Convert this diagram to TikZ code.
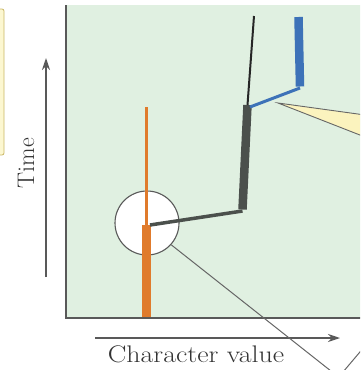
\documentclass[tikz,border=0pt]{standalone}
\usepackage{tikz}
\usetikzlibrary{positioning,arrows.meta}

\definecolor{panelgreen}{HTML}{E0F0E1}
\definecolor{lineorange}{HTML}{E07B2C}
\definecolor{linegray}{HTML}{4B504C}
\definecolor{lineblue}{HTML}{3D72B8}
\definecolor{noteyellow}{HTML}{FBF3BE}
\definecolor{notegold}{HTML}{C9B765}

\begin{document}
\begin{tikzpicture}[
  x=1pt, y=-1pt,
  axis/.style={-{Stealth[length=12pt, width=8pt]}, black!65, line width=1.3pt},
  lbl/.style={font=\fontsize{24}{26}\selectfont, text=black!80, inner sep=0pt},
  thin/.style={line width=3pt, line cap=butt},
  thick/.style={line width=8.5pt, line cap=butt},
  pointer/.style={black!60, line width=1pt}
]
\useasboundingbox (0,0) rectangle (360,370);
\clip (0,0) rectangle (360,370);

% panel and side note
\fill[panelgreen] (66,5) rectangle (365,318);
\draw[black!65, line width=1.4pt] (66,5) -- (66,318) -- (365,318);
\draw[notegold, fill=noteyellow!70, rounded corners=2pt, line width=0.8pt] (-10,9) rectangle (4,155);

% axes
\coordinate (tlo) at (46,277);
\coordinate (thi) at (46,58);
\coordinate (clo) at (95,338);
\coordinate (chi) at (340,338);
\draw[axis] (tlo) -- (thi);
\draw[axis] (clo) -- (chi);
\node[lbl, rotate=90] (time) at (26,163) {Time};
\node[lbl, anchor=base, xscale=1.16] (char) at (196,362) {Character value};

% zoom circle
\node[circle, draw=black!65, fill=white, line width=1.1pt, minimum size=64pt, inner sep=0pt] (zoom) at (147,223) {};

% orange lineage
\coordinate (o1) at (146,317);
\coordinate (o2) at (146,225);
\coordinate (o3) at (146,107);
\draw[lineorange, thick, line width=9pt] (o1) -- (o2);
\draw[lineorange, thin] (o2) -- (o3);

% gray lineage
\coordinate (g1) at (150,225);
\coordinate (g2) at (242.5,211);
\coordinate (g3) at (247.5,105);
\coordinate (g4) at (254,16);
\draw[linegray, thin, line width=3.5pt] (g1) -- (g2);
\draw[linegray, thick] ([yshift=1.5pt]g2) -- (g3);
\draw[black!85, line width=2pt] (g3) -- (g4);

% blue lineage
\coordinate (b1) at (250,107);
\coordinate (b2) at (300,88);
\coordinate (b3) at (298.5,17);
\draw[lineblue, thin] (b1) -- (b2);
\draw[lineblue, thick] ([yshift=1.5pt]b2) -- (b3);

% pointers
\coordinate (tip) at (278,103);
\draw[black!60, fill=noteyellow, line width=0.9pt] (tip) -- (365,115) -- (365,137) -- cycle;
\coordinate (lensA) at (336,375);
\coordinate (lensB) at (343,372);
\coordinate (lensC) at (365,346);
\draw[pointer] (zoom.-42) -- (lensA);
\draw[pointer] (lensB) -- (lensC);
\end{tikzpicture}
\end{document}
